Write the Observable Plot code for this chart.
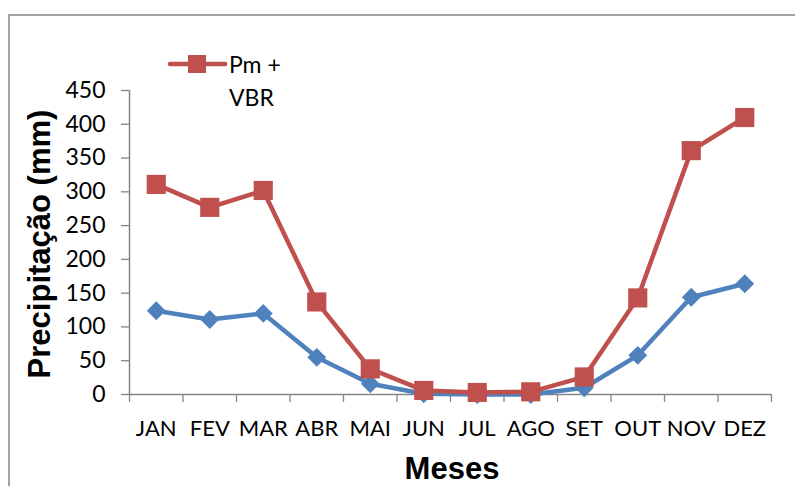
<!DOCTYPE html>
<html>
<head>
<meta charset="utf-8">
<script src="https://cdn.jsdelivr.net/npm/d3@7"></script>
<script src="https://cdn.jsdelivr.net/npm/@observablehq/plot@0.6"></script>
<style>
  html, body { margin: 0; padding: 0; background: #fff; overflow: hidden; }
  #wrap { position: relative; width: 795px; height: 486px; overflow: hidden; }
  #wrap > svg { position: absolute; left: 0; top: 0; }
</style>
</head>
<body>
<div id="wrap"></div>
<script>
const months = ["JAN","FEV","MAR","ABR","MAI","JUN","JUL","AGO","SET","OUT","NOV","DEZ"];
const pm = [124, 111, 120, 55, 16, 1, 0, 0, 10, 58, 144, 164];
const pmVbr = [311, 277, 302, 137, 38, 6, 3, 4, 26, 143, 361, 410];
const yTicks = [0, 50, 100, 150, 200, 250, 300, 350, 400, 450];
const legendLabel = ["Pm +", "VBR"];

const blue = "#4F81BD";
const red = "#C0504D";
const axisGray = "#868686";

const idx = d3.range(months.length);
const blueData = idx.map(i => ({i, v: pm[i]}));
const redData = idx.map(i => ({i, v: pmVbr[i]}));
const bounds = d3.range(months.length + 1).map(k => k - 0.5);

const chart = Plot.plot({
  width: 795,
  height: 486,
  marginLeft: 129,
  marginRight: 24,
  marginTop: 90,
  marginBottom: 92,
  style: {fontFamily: "Lato", fontSize: "22px", color: "black", background: "transparent", overflow: "visible"},
  x: {domain: [-0.5, months.length - 0.5]},
  y: {domain: [0, 450]},
  marks: [
    Plot.axisY({ticks: yTicks, tickSize: 8, tickPadding: 16, stroke: axisGray, strokeWidth: 1.3, fill: "black", fontSize: 23, label: null}),
    Plot.axisX({ticks: bounds, tickSize: 8, tickFormat: () => "", stroke: axisGray, strokeWidth: 1.3, label: null}),
    Plot.axisX({ticks: idx, tickSize: 0, tickPadding: 26, tickFormat: i => months[i], fill: "black", fontSize: 22, label: null}),
    Plot.ruleX([-0.5], {y1: 0, y2: 450, stroke: axisGray, strokeWidth: 1.5}),
    Plot.ruleY([0], {stroke: axisGray, strokeWidth: 1.5}),
    Plot.line(blueData, {x: "i", y: "v", stroke: blue, strokeWidth: 4.5}),
    Plot.dot(blueData, {x: "i", y: "v", symbol: "diamond2", r: 8.5, fill: blue}),
    Plot.line(redData, {x: "i", y: "v", stroke: red, strokeWidth: 4.5}),
    Plot.dot(redData, {x: "i", y: "v", symbol: "square", r: 10.8, fill: red})
  ]
});
document.getElementById("wrap").appendChild(chart);

// Overlay: frame, legend, axis titles
const ns = "http://www.w3.org/2000/svg";
const ov = d3.select("#wrap").append("svg")
  .attr("xmlns", ns).attr("width", 795).attr("height", 486)
  .style("pointer-events", "none");
ov.append("rect").attr("x", 9).attr("y", 15).attr("width", 820).attr("height", 520)
  .attr("fill", "none").attr("stroke", "#999").attr("stroke-width", 1.8);

// legend
const lg = ov.append("g");
lg.append("line").attr("x1", 170).attr("x2", 225).attr("y1", 64).attr("y2", 64)
  .attr("stroke", red).attr("stroke-width", 4.5).attr("stroke-linecap", "round");
lg.append("rect").attr("x", 188).attr("y", 55).attr("width", 18).attr("height", 18).attr("fill", red);
legendLabel.forEach((t, k) => {
  lg.append("text").attr("x", 229).attr("y", 73 + k * 33)
    .attr("font-family", "Lato").attr("font-size", 23).attr("fill", "black").text(t);
});

// axis titles
ov.append("text").attr("transform", "translate(50,244) rotate(-90)")
  .attr("text-anchor", "middle").attr("font-family", "Liberation Sans, Arial").attr("font-weight", "bold")
  .attr("font-size", 31).attr("fill", "black").text("Precipitação (mm)");
ov.append("text").attr("x", 452).attr("y", 479)
  .attr("text-anchor", "middle").attr("font-family", "Liberation Sans, Arial").attr("font-weight", "bold")
  .attr("font-size", 31).attr("fill", "black").text("Meses");
</script>
</body>
</html>
